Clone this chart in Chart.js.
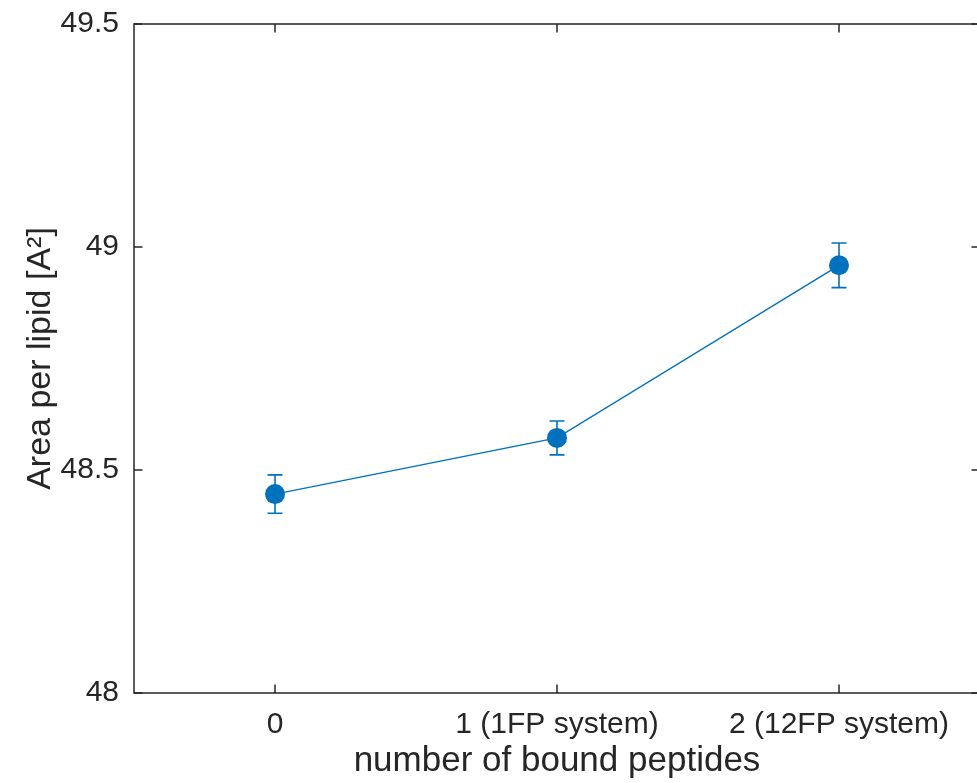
<!DOCTYPE html>
<html>
<head>
<meta charset="utf-8">
<script src="https://cdn.jsdelivr.net/npm/chart.js@4.4.1/dist/chart.umd.min.js"></script>
<style>
  html, body { margin: 0; padding: 0; background: #fff; overflow: hidden; }
  canvas { display: block; }
</style>
</head>
<body>
<canvas id="myChart" width="990" height="783"></canvas>
<script>
// data
var categories = ["0", "1 (1FP system)", "2 (12FP system)"];
var xValues = [0, 1, 2];
var areaValues = [48.446, 48.572, 48.959];
var areaErrors = [0.043, 0.038, 0.050];
var yTicks = [48, 48.5, 49, 49.5];

var blue = "#0072BD";
var axisColor = "#262626";

var pts = [];
for (var i = 0; i < xValues.length; i++) {
  pts.push({x: xValues[i], y: areaValues[i]});
}

// error bars, drawn under the markers
var errorBars = {
  id: "errorBars",
  beforeDatasetsDraw: function(chart) {
    var ctx = chart.ctx, xs = chart.scales.x, ys = chart.scales.y;
    ctx.save();
    ctx.strokeStyle = blue;
    ctx.lineWidth = 1.6;
    for (var i = 0; i < xValues.length; i++) {
      var px = xs.getPixelForValue(xValues[i]);
      var top = ys.getPixelForValue(areaValues[i] + areaErrors[i]);
      var bot = ys.getPixelForValue(areaValues[i] - areaErrors[i]);
      ctx.beginPath();
      ctx.moveTo(px, top); ctx.lineTo(px, bot);
      ctx.moveTo(px - 7.5, top); ctx.lineTo(px + 7.5, top);
      ctx.moveTo(px - 7.5, bot); ctx.lineTo(px + 7.5, bot);
      ctx.stroke();
    }
    ctx.restore();
  }
};

// matlab style box with inward ticks
var boxTicks = {
  id: "boxTicks",
  afterDraw: function(chart) {
    var ctx = chart.ctx, a = chart.chartArea, xs = chart.scales.x, ys = chart.scales.y;
    var tl = 8.5;
    ctx.save();
    ctx.strokeStyle = axisColor;
    ctx.lineWidth = 1.5;
    ctx.strokeRect(a.left, a.top, a.right - a.left, a.bottom - a.top);
    ctx.beginPath();
    xValues.forEach(function(v) {
      var px = xs.getPixelForValue(v);
      ctx.moveTo(px, a.bottom); ctx.lineTo(px, a.bottom - tl);
      ctx.moveTo(px, a.top); ctx.lineTo(px, a.top + tl);
    });
    yTicks.forEach(function(v) {
      var py = ys.getPixelForValue(v);
      ctx.moveTo(a.left, py); ctx.lineTo(a.left + tl, py);
      ctx.moveTo(a.right, py); ctx.lineTo(a.right - tl, py);
    });
    ctx.stroke();
    ctx.restore();
  }
};

var canvas = document.getElementById("myChart").getContext("2d");

var chart = new Chart(canvas, {
  type: "line",
  data: {
    datasets: [{
      data: pts,
      borderColor: blue,
      borderWidth: 1.4,
      backgroundColor: blue,
      pointBackgroundColor: blue,
      pointBorderColor: blue,
      pointRadius: 10,
      pointBorderWidth: 0,
      tension: 0
    }]
  },
  options: {
    responsive: false,
    animation: false,
    events: [],
    layout: { padding: { top: 24, right: 9, left: 0, bottom: 0 } },
    plugins: { legend: { display: false }, tooltip: { enabled: false } },
    scales: {
      x: {
        type: "linear",
        min: -0.5,
        max: 2.5,
        afterBuildTicks: function(scale) {
          scale.ticks = xValues.map(function(v) { return {value: v}; });
        },
        afterFit: function(scale) {
          scale.height = 90;
          scale.paddingLeft = 0;
          scale.paddingRight = 0;
        },
        grid: { display: false, drawTicks: false },
        border: { display: false },
        ticks: {
          padding: 14,
          maxRotation: 0,
          autoSkip: false,
          color: axisColor,
          font: { family: "Liberation Sans, Arial, sans-serif", size: 30 },
          callback: function(v) { return categories[xValues.indexOf(v)]; }
        },
        title: {
          display: true,
          text: "number of bound peptides",
          color: axisColor,
          padding: { top: 0, bottom: 1 },
          font: { family: "Liberation Sans, Arial, sans-serif", size: 35 }
        }
      },
      y: {
        min: 48,
        max: 49.5,
        afterBuildTicks: function(scale) {
          scale.ticks = yTicks.map(function(v) { return {value: v}; });
        },
        afterFit: function(scale) {
          scale.width = 134;
          scale.paddingTop = 0;
          scale.paddingBottom = 0;
        },
        grid: { display: false, drawTicks: false },
        border: { display: false },
        ticks: {
          padding: 15,
          color: axisColor,
          font: { family: "Liberation Sans, Arial, sans-serif", size: 30 },
          callback: function(v) { return String(v); }
        },
        title: {
          display: true,
          text: "Area per lipid [A²]",
          color: axisColor,
          padding: { top: 20, bottom: 0 },
          font: { family: "Liberation Sans, Arial, sans-serif", size: 34 }
        }
      }
    }
  },
  plugins: [errorBars, boxTicks]
});
</script>
</body>
</html>
